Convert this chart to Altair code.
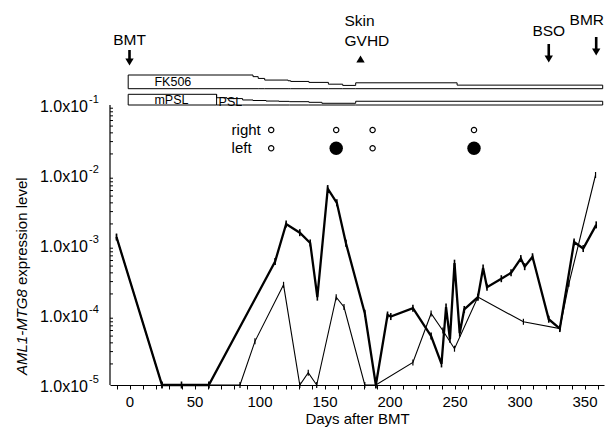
import altair as alt
import pandas as pd

FONT = "Liberation Sans"

# ---------------- data ----------------
thick_days = [-10, 25, 40, 61, 112, 120.5, 131, 139, 144.5, 152.5, 159.5, 166.5, 181, 189.5,
              198.5, 201, 218, 232, 240, 243.5, 246.5, 250, 254, 257.5, 268, 272, 275, 286,
              293.5, 301, 304, 310, 322.5, 331, 342, 349, 359]
thick_vals = [1.3e-3, 1e-5, 1e-5, 1e-5, 5.8e-4, 2.0e-3, 1.5e-3, 1.07e-3, 1.8e-4, 6.4e-3, 4.0e-3,
              1.06e-3, 1.06e-4, 1e-5, 1.0e-4, 9.5e-5, 1.25e-4, 5e-5, 2e-5, 1.3e-4, 4.5e-5, 5.5e-4,
              5.5e-5, 1.2e-4, 1.8e-4, 4.7e-4, 2.5e-4, 3.3e-4, 4.0e-4, 6.4e-4, 4.9e-4, 6.8e-4,
              8.7e-5, 6.4e-5, 1.1e-3, 8.9e-4, 1.94e-3]

thin_days = [-10, 25, 61, 85, 96.5, 118.5, 131, 137.5, 144, 159, 165, 181, 189.5, 218, 232,
             241, 250, 268, 303, 331, 338, 358.5]
thin_vals = [1.3e-3, 1e-5, 1e-5, 1e-5, 4.2e-5, 2.7e-4, 1e-5, 1.5e-5, 1e-5, 1.8e-4, 1.3e-4,
             1e-5, 1e-5, 2.1e-5, 1.05e-4, 6e-5, 3.3e-5, 1.8e-4, 8e-5, 6.4e-5, 2.8e-4, 1.0e-2]

x_tick_days = list(range(-10, 361, 10))
y_decades = [1e-1, 1e-2, 1e-3, 1e-4, 1e-5]
y_exponents = ["-1", "-2", "-3", "-4", "-5"]
y_minor = [k * 10.0 ** d for d in range(-5, -1) for k in range(2, 10)]

fk_days = [-1, 95, 99, 104, 122, 124, 138, 153, 164, 174, 252, 364]
fk_level = [1, 0.88, 0.75, 0.63, 0.58, 0.53, 0.46, 0.33, 0.24, 0.43, 0.26, 0.26]
psl_days = [-1, 67, 75, 87, 95, 105, 115, 123, 138, 148, 174, 364]
psl_level = [1, 0.68, 0.6, 0.47, 0.42, 0.37, 0.34, 0.31, 0.25, 0.16, 0.35, 0.35]
mpsl_end_day = 67

circle_days = [109, 159, 187, 265]
right_state = ["open", "open", "open", "open"]
left_state = ["open", "filled", "open", "filled"]

event_names = ["BMT", "BSO", "BMR"]
event_days = [0, 322.5, 359]
gvhd_day = 177.7

# ---------------- scales ----------------
xscale = alt.Scale(domain=[-15, 365], nice=False, zero=False)
yscale = alt.Scale(type="log", domain=[1e-5, 2.276], nice=False)

df_thick = pd.DataFrame({"day": thick_days, "val": thick_vals})
df_thin = pd.DataFrame({"day": thin_days, "val": thin_vals})

x_axis = alt.Axis(values=x_tick_days, labelExpr="datum.value % 50 === 0 ? datum.label : ''",
                  format="d", title="Days after BMT", grid=False, tickSize=4, labelPadding=5,
                  labelFontSize=15, titleFontSize=15, titlePadding=2, domain=True,
                  domainColor="black", domainWidth=1.2, tickColor="black", labelColor="black",
                  titleColor="black", titleFontWeight="normal", labelFont=FONT, titleFont=FONT,
                  labelFlush=False)
y_axis = alt.Axis(values=y_decades, labels=False, domain=False, grid=False, ticks=True,
                  tickSize=4, tickColor="black", title=None)


def X(field="day:Q"):
    return alt.X(field, scale=xscale, axis=x_axis)


def Y(field="val:Q"):
    return alt.Y(field, scale=yscale, axis=None)


thick = alt.Chart(df_thick).mark_line(color="black", strokeWidth=2.3).encode(
    x=X(), y=alt.Y("val:Q", scale=yscale, axis=y_axis))
thin = alt.Chart(df_thin).mark_line(color="black", strokeWidth=1.1).encode(x=X(), y=Y())
tick_shape = "M0,-1L0,1"
thick_err = alt.Chart(df_thick).mark_point(shape=tick_shape, filled=False, stroke="black",
                                           strokeWidth=1.6, size=49, opacity=1).encode(x=X(), y=Y())
thin_err = alt.Chart(df_thin).mark_point(shape=tick_shape, filled=False, stroke="black",
                                         strokeWidth=1.2, size=36, opacity=1).encode(x=X(), y=Y())

y_domain = alt.Chart(pd.DataFrame({"lo": [1e-5], "hi": [1e-1]})).mark_rule(
    color="black", strokeWidth=1.2).encode(x=alt.value(0), y=Y("lo:Q"), y2="hi:Q")
minor = alt.Chart(pd.DataFrame({"v": y_minor})).mark_rule(color="black", strokeWidth=1).encode(
    x=alt.value(0), x2=alt.value(3), y=Y("v:Q"))

df_ylab = pd.DataFrame({"v": y_decades, "e": y_exponents})
ylab = alt.Chart(df_ylab).mark_text(align="right", baseline="middle", fontSize=16, font=FONT,
                                    color="black", dy=2).encode(
    x=alt.value(-22), y=Y("v:Q"), text=alt.value("1.0x10"))
ysup = alt.Chart(df_ylab).mark_text(align="left", baseline="middle", fontSize=11, font=FONT,
                                    color="black", dy=-5).encode(
    x=alt.value(-21), y=Y("v:Q"), text="e:N")

one = pd.DataFrame({"a": [0]})
ytitle_it = alt.Chart(one).mark_text(angle=270, align="left", baseline="middle", fontSize=15,
                                     font=FONT, fontStyle="italic", color="black").encode(
    x=alt.value(-88), y=alt.value(365), text=alt.value("AML1-MTG8"))
ytitle_n = alt.Chart(one).mark_text(angle=270, align="left", baseline="middle", fontSize=15,
                                    font=FONT, color="black").encode(
    x=alt.value(-88), y=alt.value(275), text=alt.value("expression level"))

# annotations: events with arrows
ev_layout = {  # text y, shaft top, shaft bottom, head y, text align, text day offset
    "BMT": (30, 40, 50, 52, "center", 0),
    "BSO": (21, 34, 47, 49, "center", 0),
    "BMR": (10, 27, 40, 42, "right", 6),
}
ann_layers = []
for name, day in zip(event_names, event_days):
    ty, s0, s1, hy, al, off = ev_layout[name]
    d = pd.DataFrame({"day": [day], "tday": [day + off], "t": [name]})
    ann_layers.append(alt.Chart(d).mark_text(fontSize=15.5, font=FONT, color="black", align=al).encode(
        x=X("tday:Q"), y=alt.value(ty), text="t:N"))
    ann_layers.append(alt.Chart(d).mark_rule(color="black", strokeWidth=2.6).encode(
        x=X(), y=alt.value(s0), y2=alt.value(s1)))
    ann_layers.append(alt.Chart(d).mark_point(shape="triangle-down", filled=True, color="black",
                                              size=70, opacity=1).encode(x=X(), y=alt.value(hy)))

df_g = pd.DataFrame({"day": [gvhd_day], "tday": [165.4]})
ann_layers.append(alt.Chart(df_g).mark_point(shape="triangle-up", filled=True, color="black",
                                             size=70, opacity=1).encode(x=X(), y=alt.value(49)))
ann_layers.append(alt.Chart(df_g).mark_text(fontSize=15.5, font=FONT, color="black", align="left").encode(
    x=X("tday:Q"), y=alt.value(11), text=alt.value("Skin")))
ann_layers.append(alt.Chart(df_g).mark_text(fontSize=15.5, font=FONT, color="black", align="left").encode(
    x=X("tday:Q"), y=alt.value(31), text=alt.value("GVHD")))

# treatment band labels
band_lab_days = [19.2, 19.2, 68.5]
band_lab_text = ["FK506", "mPSL", "PSL"]
band_lab_y = [72, 90, 92]
for dd, tt, yy in zip(band_lab_days, band_lab_text, band_lab_y):
    ann_layers.append(alt.Chart(pd.DataFrame({"day": [dd], "t": [tt]})).mark_text(
        fontSize=12.5, font=FONT, color="black", align="left", baseline="middle").encode(
        x=X(), y=alt.value(yy), text="t:N"))

# left/right circles
df_rl = pd.DataFrame({"day": [78.5], "t1": ["right"], "t2": ["left"]})
ann_layers.append(alt.Chart(df_rl).mark_text(fontSize=15, font=FONT, color="black", align="left").encode(
    x=X(), y=alt.value(120), text="t1:N"))
ann_layers.append(alt.Chart(df_rl).mark_text(fontSize=15, font=FONT, color="black", align="left").encode(
    x=X(), y=alt.value(138.3), text="t2:N"))
for states, yy in [(right_state, 120), (left_state, 138.3)]:
    dfc = pd.DataFrame({"day": circle_days, "s": states})
    ann_layers.append(alt.Chart(dfc).transform_filter("datum.s == 'open'").mark_point(
        shape="circle", filled=False, stroke="black", strokeWidth=1.2, size=28, opacity=1).encode(
        x=X(), y=alt.value(yy)))
    ann_layers.append(alt.Chart(dfc).transform_filter("datum.s == 'filled'").mark_point(
        shape="circle", filled=True, color="black", size=180, opacity=1).encode(
        x=X(), y=alt.value(yy)))

main = alt.layer(y_domain, minor, thin, thick, thin_err, thick_err, ylab, ysup,
                 ytitle_it, ytitle_n, *ann_layers)

# treatment bands (own y scales)
fk_scale = alt.Scale(domain=[0, 1], range=[78.7, 65])
psl_scale = alt.Scale(domain=[0, 1], range=[95, 84.3])
fk = alt.Chart(pd.DataFrame({"day": fk_days, "lv": fk_level})).mark_area(
    interpolate="step-after", fill="white", stroke="black", strokeWidth=1).encode(
    x=X(), y=alt.Y("lv:Q", scale=fk_scale, axis=None, stack=None))
psl = alt.Chart(pd.DataFrame({"day": psl_days, "lv": psl_level})).mark_area(
    interpolate="step-after", fill="white", stroke="black", strokeWidth=1).encode(
    x=X(), y=alt.Y("lv:Q", scale=psl_scale, axis=None, stack=None))
psl_sep = alt.Chart(pd.DataFrame({"day": [mpsl_end_day], "lo": [0], "hi": [1]})).mark_rule(
    color="black", strokeWidth=1).encode(
    x=X(), y=alt.Y("lo:Q", scale=psl_scale, axis=None), y2="hi:Q")

chart = alt.layer(fk, psl, psl_sep, main).resolve_scale(y="independent").properties(
    width=494, height=375,
    padding={"left": 102, "top": 2, "right": 1, "bottom": 44},
    autosize=alt.AutoSizeParams(type="none"),
    background="white",
).configure_view(stroke=None)

chart.save("out.html", embed_options={"renderer": "svg", "actions": False})
